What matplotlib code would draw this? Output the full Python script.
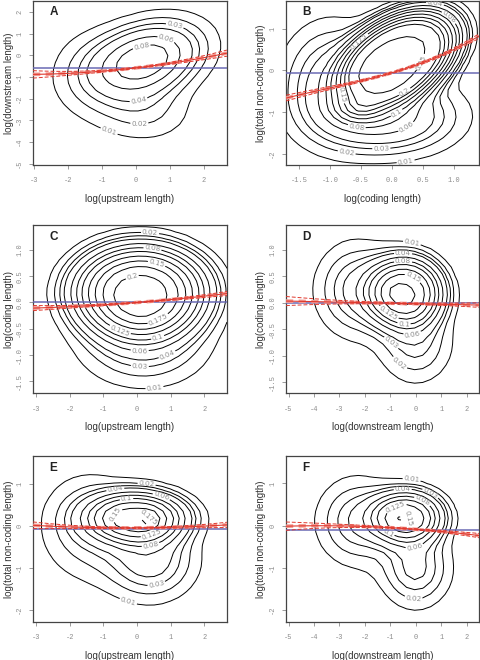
import numpy as np
import matplotlib
matplotlib.use("Agg")
import matplotlib.pyplot as plt

plt.rcParams["axes.unicode_minus"] = False

letters = ["A", "B", "C", "D", "E", "F"]
x_names = ["log(upstream length)", "log(coding length)", "log(upstream length)",
           "log(downstream length)", "log(upstream length)", "log(downstream length)"]
y_names = ["log(downstream length)", "log(total non-coding length)", "log(coding length)",
           "log(coding length)", "log(total non-coding length)", "log(total non-coding length)"]

x_ranges = [(-3.02, 2.69), (-1.71, 1.41), (-3.1, 2.68), (-5.1, 2.48), (-3.1, 2.68), (-5.1, 2.48)]
y_ranges = [(-5.05, 2.5), (-2.27, 1.66), (-1.72, 1.47), (-1.7, 1.47), (-2.29, 1.66), (-2.29, 1.65)]
x_ticks = [[-3, -2, -1, 0, 1, 2], [-1.5, -1.0, -0.5, 0.0, 0.5, 1.0], [-3, -2, -1, 0, 1, 2],
           [-5, -4, -3, -2, -1, 0, 1, 2], [-3, -2, -1, 0, 1, 2], [-5, -4, -3, -2, -1, 0, 1, 2]]
y_ticks = [[-5, -4, -3, -2, -1, 0, 1, 2], [-2, -1, 0, 1], [-1.5, -1.0, -0.5, 0.0, 0.5, 1.0],
           [-1.5, -1.0, -0.5, 0.0, 0.5, 1.0], [-2, -1, 0, 1], [-2, -1, 0, 1]]
x_fmt = ["%d", "%.1f", "%d", "%d", "%d", "%d"]
y_fmt = ["%d", "%d", "%.1f", "%.1f", "%d", "%d"]

# contour levels of the 2d density
levels = [
    [0.01, 0.02, 0.03, 0.04, 0.06, 0.08],
    [0.01, 0.02, 0.03, 0.04, 0.06, 0.08, 0.1, 0.125, 0.15, 0.175, 0.2, 0.25],
    [0.01, 0.02, 0.03, 0.04, 0.06, 0.08, 0.1, 0.125, 0.15, 0.175, 0.2],
    [0.01, 0.02, 0.03, 0.04, 0.06, 0.08, 0.1, 0.125, 0.15, 0.175],
    [0.01, 0.02, 0.03, 0.04, 0.06, 0.08, 0.1, 0.125, 0.15, 0.175],
    [0.01, 0.02, 0.03, 0.04, 0.06, 0.08, 0.1, 0.125, 0.15],
]

# density bumps: height, x centre, y centre, x sd, y sd, corr, shape power
bumps_A = [(0.100, 0.25, -0.25, 1.05, 1.10, 0.3, 1.0),
           (0.020, 0.25, -2.70, 0.95, 0.90, 0.0, 1.0),
           (0.012, -1.50, -0.80, 0.80, 1.40, 0.0, 1.0)]
bumps_B = [(0.26, 0.12, 0.30, 0.66, 0.80, 0.40, 2.0),
           (0.05, -0.95, -0.25, 0.50, 0.85, 0.0, 1.0),
           (0.075, -0.10, -1.10, 0.70, 0.55, 0.0, 1.0),
           (0.05, -0.55, -0.95, 0.25, 0.20, 0.0, 1.0)]
bumps_C = [(0.21, 0.10, 0.20, 1.35, 0.60, 0.0, 1.5),
           (0.04, 0.20, -0.80, 1.20, 0.50, 0.0, 1.0)]
bumps_D = [(0.17, -0.40, 0.20, 1.00, 0.45, 0.0, 1.4),
           (0.045, -2.30, 0.25, 1.00, 0.55, 0.0, 1.0),
           (0.035, 0.00, -0.75, 0.90, 0.48, 0.0, 1.0)]
bumps_E = [(0.15, 0.00, 0.20, 1.00, 0.42, 0.0, 1.3),
           (0.05, 0.40, -0.80, 0.85, 0.60, 0.0, 1.0),
           (0.03, -1.50, 0.00, 0.90, 0.80, 0.0, 1.0),
           (0.02, 0.40, 0.15, 0.20, 0.15, 0.0, 1.0)]
bumps_F = [(0.14, -0.35, 0.20, 0.95, 0.42, 0.0, 1.3),
           (0.04, -2.30, 0.10, 1.00, 0.65, 0.0, 1.0),
           (0.045, 0.00, -1.00, 0.85, 0.58, 0.0, 1.0)]
bumps = [bumps_A, bumps_B, bumps_C, bumps_D, bumps_E, bumps_F]

# contour labels: level, x, y
labels_A = [(0.03, 1.2, 1.68), (0.06, 0.95, 1.0), (0.08, 0.22, 0.1), (0.04, 0.1, -2.14),
            (0.02, 0.1, -2.85), (0.01, -0.76, -3.41)]
labels_B = [(0.04, 0.68, 1.38), (0.08, 0.72, 0.94), (0.125, -0.42, 0.51), (0.25, 0.53, 0.15),
            (0.2, 0.21, -0.52), (0.15, -0.52, -0.48), (0.1, 0.1, -1.08), (0.08, -0.57, -1.38),
            (0.06, 0.26, -1.44), (0.03, -0.17, -1.71), (0.02, -0.73, -1.98), (0.01, 0.22, -2.13)]
labels_C = [(0.02, 0.38, 1.23), (0.08, 0.43, 0.84), (0.15, 0.5, 0.56), (0.2, -0.04, 0.17),
            (0.175, 0.48, -0.11), (0.125, -0.37, -0.32), (0.1, 0.58, -0.59), (0.06, 0.08, -0.94),
            (0.04, 0.97, -1.11), (0.03, 0.08, -1.3), (0.01, 0.53, -1.66)]
labels_D = [(0.01, -0.1, 1.29), (0.04, -0.5, 0.97), (0.08, -0.5, 0.74), (0.15, -0.13, 0.45),
            (0.125, -1.02, -0.16), (0.1, -0.5, -0.51), (0.06, -0.1, -0.92), (0.03, -1.34, -1.05),
            (0.02, -0.95, -1.34)]
labels_E = [(0.02, 0.33, 1.31), (0.04, -0.67, 1.02), (0.06, 0.83, 0.98), (0.1, -0.32, 0.69),
            (0.15, -0.72, 0.31), (0.175, 0.36, 0.23), (0.125, 0.48, -0.32), (0.08, 0.5, -0.87),
            (0.03, 0.66, -1.63), (0.01, -0.32, -1.93)]
labels_F = [(0.01, -0.1, 1.44), (0.04, -0.52, 1.02), (0.03, 0.81, 1.02), (0.08, 0.33, 0.68),
            (0.125, -0.82, 0.48), (0.15, -0.1, 0.09), (0.1, -1.28, -0.39), (0.06, 0.31, -1.16),
            (0.02, -0.08, -1.7)]
contour_labels = [labels_A, labels_B, labels_C, labels_D, labels_E, labels_F]

# mean of y (blue) and fitted polynomial a + b x + c x^2 + d x^3 (red)
y_means = [-0.58, -0.06, 0.0, -0.01, -0.07, -0.10]
fit_coefs = [(-0.58, 0.18, 0.027, 0.0), (-0.06, 0.43, 0.095, 0.03), (0.0, 0.05, 0.005, 0.0),
             (-0.015, -0.01, 0.0, 0.0), (-0.05, 0.005, 0.008, 0.0), (-0.09, -0.045, -0.006, 0.0)]
# confidence band half width: h0 + h1 (x - xm)^2
ci_params = [(0.0, 0.03, 0.0155), (0.0, 0.02, 0.017), (0.0, 0.01, 0.004),
             (-0.5, 0.012, 0.0035), (0.0, 0.012, 0.007), (-0.5, 0.015, 0.004)]

rects = [(0.0688, 0.750, 0.404, 0.2485), (0.5958, 0.750, 0.402, 0.2485),
         (0.0688, 0.4045, 0.404, 0.2545), (0.5958, 0.4045, 0.402, 0.2545),
         (0.0688, 0.0576, 0.404, 0.2515), (0.5958, 0.0576, 0.402, 0.2515)]


def density(X, Y, parts):
    z = np.zeros_like(X)
    for w, mx, my, sx, sy, rho, p in parts:
        dx = (X - mx) / sx
        dy = (Y - my) / sy
        q = (dx * dx - 2 * rho * dx * dy + dy * dy) / (1 - rho * rho)
        z += w * np.exp(-(q / 2) ** p)
    return z


fig = plt.figure(figsize=(4.8, 6.6), dpi=100)
grey = "#8c8c8c"

for i in range(6):
    ax = fig.add_axes(rects[i])
    x0, x1 = x_ranges[i]
    y0, y1 = y_ranges[i]
    gx = np.linspace(x0, x1, 25)
    gy = np.linspace(y0, y1, 25)
    GX, GY = np.meshgrid(gx, gy)
    Z = density(GX, GY, bumps[i])

    # one contour set per level so each label sits on its own level
    for lev in levels[i]:
        if Z.max() <= lev:
            continue
        cs = ax.contour(GX, GY, Z, levels=[lev], colors="black", linewidths=0.7)
        spots = [(lx, ly) for (lv, lx, ly) in contour_labels[i] if lv == lev]
        if spots:
            try:
                ax.clabel(cs, manual=spots, inline=True, inline_spacing=1,
                          fontsize=5.2, colors=grey, fmt=lambda v: "%g" % v)
            except Exception:
                pass

    xs = np.linspace(x0, x1, 100)
    a, b, c, d = fit_coefs[i]
    yf = a + b * xs + c * xs ** 2 + d * xs ** 3
    xm, h0, h1 = ci_params[i]
    hw = h0 + h1 * (xs - xm) ** 2
    ax.axhline(y_means[i], color="#6a6ab4", lw=1.1, zorder=4)
    ax.plot(xs, yf, color="#f29a92", lw=2.6, dashes=(2, 1.5), zorder=5)
    ax.plot(xs, yf, color="#e0392e", lw=0.8, zorder=6)
    ax.plot(xs, yf + hw, color="#e0392e", lw=0.7, dashes=(4, 2), zorder=6)
    ax.plot(xs, yf - hw, color="#e0392e", lw=0.7, dashes=(4, 2), zorder=6)

    ax.set_xlim(x0, x1)
    ax.set_ylim(y0, y1)
    ax.set_xticks(x_ticks[i])
    ax.set_yticks(y_ticks[i])
    ax.set_xticklabels([x_fmt[i] % t for t in x_ticks[i]])
    ax.set_yticklabels([y_fmt[i] % t for t in y_ticks[i]], rotation=90, va="center")
    ax.tick_params(length=3, width=0.6, color=grey, labelcolor=grey, labelsize=5)
    ax.tick_params(axis="x", pad=6)
    ax.tick_params(axis="y", pad=4)
    for lab in ax.get_xticklabels() + ax.get_yticklabels():
        lab.set_family("Liberation Mono")
    for s in ax.spines.values():
        s.set_color("#444444")
        s.set_linewidth(0.9)
    ax.set_xlabel(x_names[i], fontsize=7, color="#333333", family="Liberation Sans", labelpad=7)
    ax.set_ylabel(y_names[i], fontsize=7, color="#333333", family="Liberation Sans", labelpad=2)
    ax.text(0.085, 0.93, letters[i], transform=ax.transAxes, fontsize=8.5, fontweight="bold",
            family="Liberation Sans", ha="left", va="center", color="#222222")

fig.savefig("out.png", dpi=100)
